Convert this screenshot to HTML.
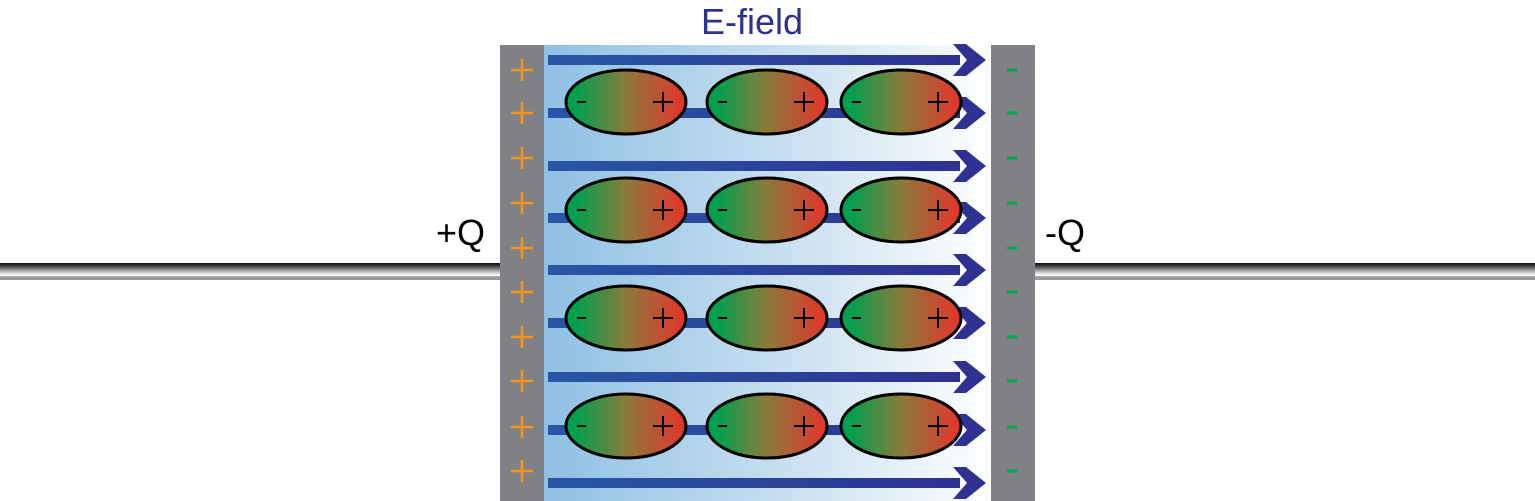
<!DOCTYPE html>
<html><head><meta charset="utf-8"><style>
html,body{margin:0;padding:0;background:#fff;width:1535px;height:501px;overflow:hidden}
svg{display:block}
text{font-family:"Liberation Sans",sans-serif}
</style></head><body>
<svg id="s" width="1535" height="501" viewBox="0 0 1535 501">
<defs>
<linearGradient id="wire" x1="0" y1="0" x2="0" y2="1">
<stop offset="0" stop-color="#111"/><stop offset="0.15" stop-color="#333"/><stop offset="0.6" stop-color="#ddd"/><stop offset="0.75" stop-color="#fff"/><stop offset="0.8" stop-color="#999"/><stop offset="1" stop-color="#999"/>
</linearGradient>
<linearGradient id="diel" x1="0" y1="0" x2="1" y2="0">
<stop offset="0" stop-color="#8fc0e4"/><stop offset="0.5" stop-color="#c4ddef"/><stop offset="1" stop-color="#ffffff"/>
</linearGradient>
<linearGradient id="arr" x1="0" y1="0" x2="1" y2="0">
<stop offset="0" stop-color="#2857a6"/><stop offset="1" stop-color="#2e3192"/>
</linearGradient>
<linearGradient id="mol" x1="0" y1="0" x2="1" y2="0">
<stop offset="0.08" stop-color="#00a04e"/><stop offset="0.5" stop-color="#8a7a3a"/><stop offset="1" stop-color="#e8322a"/>
</linearGradient>
</defs>
<rect x="0" y="263" width="500" height="17" fill="url(#wire)"/>
<rect x="1035" y="263" width="500" height="17" fill="url(#wire)"/>
<rect x="544" y="45" width="447" height="456" fill="url(#diel)"/>
<rect x="500" y="45" width="44" height="456" fill="#808184"/>
<rect x="991" y="45" width="44" height="456" fill="#808184"/>
<g id="arrows"></g>
<g id="mols"></g>
<g id="charges"></g>
<text x="752" y="34" font-size="36" fill="#2e3192" text-anchor="middle">E-field</text>
<text x="485" y="245" font-size="36" fill="#000" text-anchor="end">+Q</text>
<text x="1045" y="245" font-size="36" fill="#000">-Q</text>
</svg>
<script>
const arrowRows=[60,113,166,218,270,323,377,430,483];
const molCols=[626,767,901];
const molRows=[102,210,318,426];
const chargeRows=[70,113,158,203,248,292,337,381,427,471];
const NS="http://www.w3.org/2000/svg";
function mk(t,a,p){const e=document.createElementNS(NS,t);for(const k in a)e.setAttribute(k,a[k]);p.appendChild(e);return e;}
const ag=document.getElementById('arrows');
arrowRows.forEach(y=>{
 const r=mk('rect',{x:548,y:y-5,width:412,height:10,fill:'url(#arr)'},ag);
 
 
 const h=mk('polygon',{points:`953,${y-16} 966,${y-16} 986,${y} 966,${y+16} 953,${y+16} 967,${y}`,fill:'#2e3192'},ag);
 
 
});
const mg=document.getElementById('mols');
molRows.forEach(y=>molCols.forEach(x=>{
 const g=mk('g',{},mg);
 
 
 mk('ellipse',{cx:x,cy:y,rx:60,ry:32,fill:'url(#mol)',stroke:'#000','stroke-width':3},g);
 mk('line',{x1:x-49,y1:y,x2:x-40,y2:y,stroke:'#000','stroke-width':2},g);
 mk('line',{x1:x+27,y1:y,x2:x+47,y2:y,stroke:'#000','stroke-width':2},g);
 mk('line',{x1:x+37,y1:y-10,x2:x+37,y2:y+10,stroke:'#000','stroke-width':2},g);
}));
const cg=document.getElementById('charges');
chargeRows.forEach(y=>{
 const p=mk('g',{},cg);
 
 
 mk('line',{x1:511,y1:y,x2:533,y2:y,stroke:'#f7941d','stroke-width':2.5},p);
 mk('line',{x1:522,y1:y-11,x2:522,y2:y+11,stroke:'#f7941d','stroke-width':2.5},p);
 const m=mk('rect',{x:1007,y:y-1.5,width:10,height:3,fill:'#00a651'},cg);
 
 
});
</script>
</body></html>
